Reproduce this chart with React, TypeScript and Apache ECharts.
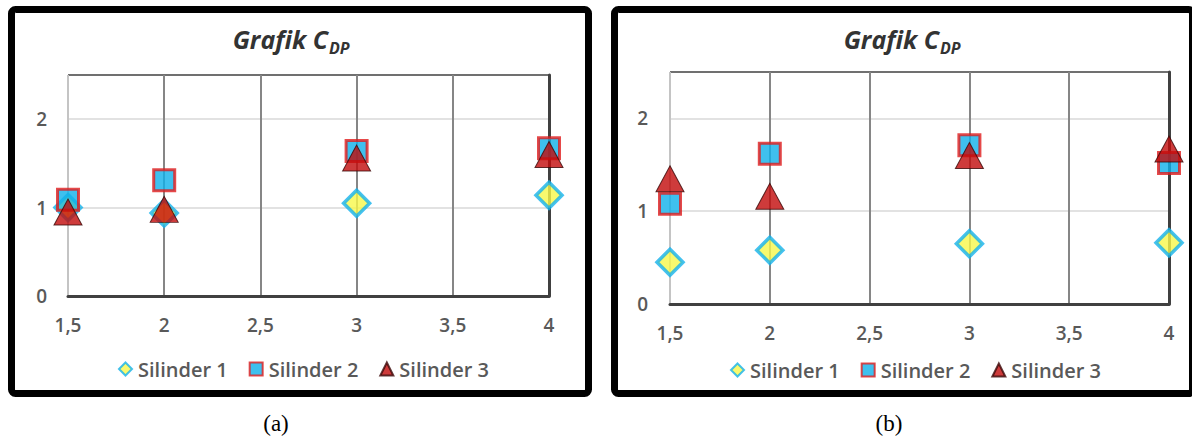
import React, { useEffect, useRef } from "react";
import * as echarts from "echarts";

// Shared x positions (spacing ratio) for both panels
const xValues = [1.5, 2, 3, 4];

// Panel (a)
const aSilinder1 = [1.0, 0.94, 1.05, 1.14];
const aSilinder2 = [1.09, 1.31, 1.64, 1.67];
const aSilinder3 = [0.95, 0.98, 1.56, 1.6];

// Panel (b)
const bSilinder1 = [0.45, 0.58, 0.65, 0.66];
const bSilinder2 = [1.08, 1.62, 1.71, 1.52];
const bSilinder3 = [1.35, 1.16, 1.6, 1.67];

const seriesNames = ["Silinder 1", "Silinder 2", "Silinder 3"];
const xTickLabels = ["1,5", "2", "2,5", "3", "3,5", "4"];
const yTickLabels = ["0", "1", "2"];
const panelLabels = ["(a)", "(b)"];

const FONT = '"Open Sans", Lato, "DejaVu Sans", sans-serif';
const LABEL_COLOR = "#595959";

const X_MIN = 1.5;
const X_MAX = 4;
const X_STEP = 0.5;
const Y_MIN = 0;
const Y_MAX = 2.5;
const Y_STEP = 1;

const markerStyles = [
  {
    symbol: "diamond",
    symbolSize: 26,
    itemStyle: { color: "#f7f74a", borderColor: "#14b2ec", borderWidth: 3.5 },
  },
  {
    symbol: "rect",
    symbolSize: 21,
    itemStyle: { color: "#0fb0ea", borderColor: "#e01c1c", borderWidth: 3 },
  },
  {
    symbol: "triangle",
    symbolSize: [28, 26],
    itemStyle: { color: "#c20a0a", borderColor: "#3a0808", borderWidth: 1 },
  },
];

const xLabel = (v: number) => {
  const idx = Math.round((v - X_MIN) / X_STEP);
  return xTickLabels[idx] ?? "";
};
const yLabel = (v: number) => {
  if (Math.abs(v - Math.round(v)) > 1e-9) return "";
  return yTickLabels[Math.round(v)] ?? "";
};

function buildAxes(gridIndex: number, labelMargin: number) {
  const xAxes = [
    {
      type: "value",
      gridIndex,
      min: X_MIN,
      max: X_MAX,
      interval: X_STEP,
      position: "bottom",
      z: 0,
      axisLine: { show: true, lineStyle: { color: "#c4c4c4", width: 2 } },
      axisTick: { show: false },
      axisLabel: {
        show: true,
        margin: 19,
        formatter: xLabel,
        color: LABEL_COLOR,
        fontFamily: FONT,
        fontSize: 19,
        fontWeight: 600,
      },
      splitLine: {
        show: true,
        lineStyle: {
          color: ["#c4c4c4", "#868686", "#868686", "#868686", "#868686", "#404040"],
          width: 2,
        },
      },
    },
    {
      type: "value",
      gridIndex,
      min: X_MIN,
      max: X_MAX,
      interval: X_STEP,
      position: "top",
      z: 1,
      axisLine: { show: true, lineStyle: { color: "#404040", width: 3 } },
      axisTick: { show: false },
      axisLabel: { show: false },
      splitLine: { show: false },
    },
  ];
  const yAxes = [
    {
      type: "value",
      gridIndex,
      min: Y_MIN,
      max: Y_MAX,
      interval: Y_STEP,
      position: "left",
      z: 0,
      axisLine: { show: false },
      axisTick: { show: false },
      axisLabel: {
        show: true,
        margin: labelMargin,
        formatter: yLabel,
        showMaxLabel: false,
        color: LABEL_COLOR,
        fontFamily: FONT,
        fontSize: 19,
        fontWeight: 600,
      },
      splitLine: {
        show: true,
        lineStyle: { color: ["#c4c4c4", "#d9d9d9", "#d9d9d9", "#404040"], width: 1.5 },
      },
    },
    {
      type: "value",
      gridIndex,
      min: Y_MIN,
      max: Y_MAX,
      interval: Y_STEP,
      position: "right",
      z: 1,
      axisLine: { show: true, lineStyle: { color: "#404040", width: 3 } },
      axisTick: { show: false },
      axisLabel: { show: false },
      splitLine: { show: false },
    },
  ];
  return { xAxes, yAxes };
}

function buildSeries(panel: number, values: number[][]) {
  return values.map((vals, s) => ({
    type: "scatter",
    name: seriesNames[s],
    xAxisIndex: panel * 2,
    yAxisIndex: panel * 2,
    silent: true,
    z: 2 + s,
    symbol: markerStyles[s].symbol,
    symbolSize: markerStyles[s].symbolSize,
    itemStyle: markerStyles[s].itemStyle,
    data: xValues.map((x, i) => [x, vals[i]]),
  }));
}

function titleGraphics(rightEdge: number) {
  return [
    {
      type: "text",
      x: rightEdge,
      y: 39,
      style: {
        text: "Grafik C",
        align: "right",
        verticalAlign: "middle",
        fontFamily: FONT,
        fontSize: 25,
        fontWeight: "bold",
        fontStyle: "italic",
        fill: "#333333",
      },
    },
    {
      type: "text",
      x: rightEdge + 1,
      y: 48,
      style: {
        text: "DP",
        align: "left",
        verticalAlign: "middle",
        fontFamily: FONT,
        fontSize: 16,
        fontWeight: "bold",
        fontStyle: "italic",
        fill: "#333333",
      },
    },
  ];
}

function panelFrame(x0: number, x1: number) {
  const lw = 7;
  return {
    type: "rect",
    shape: { x: x0 + lw / 2, y: 6 + lw / 2, width: x1 - x0 - lw, height: 391 - lw, r: 4 },
    style: { fill: "none", stroke: "#000000", lineWidth: lw },
    z: 10,
  };
}

function legendAt(left: number, top: number) {
  return {
    left,
    top,
    orient: "horizontal",
    itemWidth: 13,
    itemHeight: 13,
    itemGap: 21,
    selectedMode: false,
    data: seriesNames.map((n, i) => ({ name: n, icon: markerStyles[i].symbol })),
    textStyle: {
      color: LABEL_COLOR,
      fontFamily: FONT,
      fontSize: 20,
      fontWeight: 600,
      padding: [0, 0, 0, 1],
    },
  };
}

export default function App() {
  const ref = useRef<HTMLDivElement>(null);

  useEffect(() => {
    if (!ref.current) return;
    const chart = echarts.init(ref.current, null, { renderer: "svg" });

    const a = buildAxes(0, 21);
    const b = buildAxes(1, 22);

    chart.setOption({
      animation: false,
      backgroundColor: "#ffffff",
      grid: [
        { left: 68, top: 75, width: 481, height: 221, outerBoundsMode: "none", containLabel: false },
        { left: 670, top: 72, width: 499, height: 232, outerBoundsMode: "none", containLabel: false },
      ],
      xAxis: [...a.xAxes, ...b.xAxes],
      yAxis: [...a.yAxes, ...b.yAxes],
      legend: [legendAt(113, 354), legendAt(725, 355)],
      series: [
        ...buildSeries(0, [aSilinder1, aSilinder2, aSilinder3]),
        ...buildSeries(1, [bSilinder1, bSilinder2, bSilinder3]),
      ],
      graphic: [
        panelFrame(8, 592),
        panelFrame(611, 1196),
        ...titleGraphics(328),
        ...titleGraphics(939),
        {
          type: "text",
          x: 276,
          y: 423,
          style: {
            text: panelLabels[0],
            align: "center",
            verticalAlign: "middle",
            fontFamily: '"Liberation Serif", "DejaVu Serif", serif',
            fontSize: 23,
            fill: "#000000",
          },
        },
        {
          type: "text",
          x: 889,
          y: 423,
          style: {
            text: panelLabels[1],
            align: "center",
            verticalAlign: "middle",
            fontFamily: '"Liberation Serif", "DejaVu Serif", serif',
            fontSize: 23,
            fill: "#000000",
          },
        },
      ],
    });

    return () => chart.dispose();
  }, []);

  return (
    <div
      ref={ref}
      style={{ position: "fixed", left: 0, top: 0, width: 1192, height: 439, background: "#fff" }}
    />
  );
}
